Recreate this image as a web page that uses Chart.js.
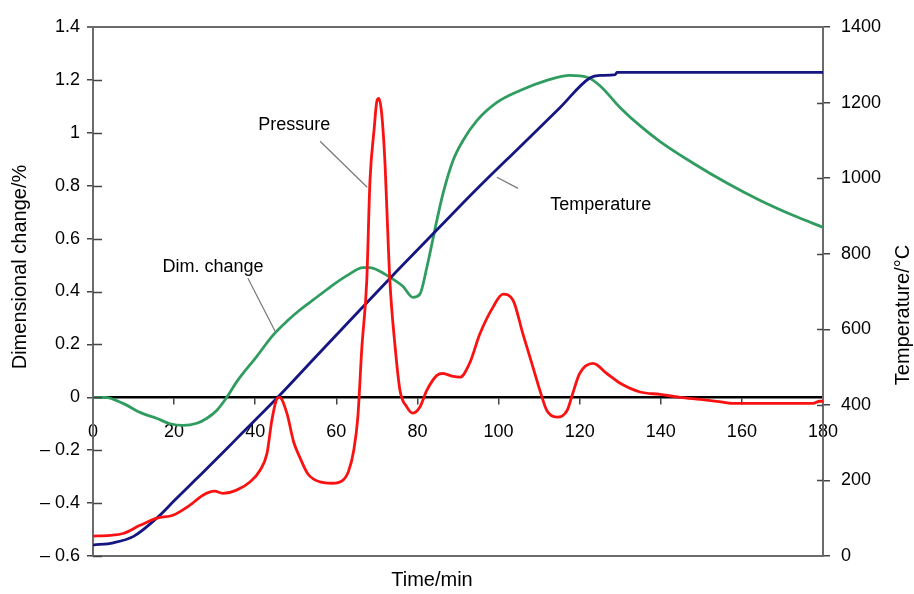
<!DOCTYPE html>
<html lang="en">
<head>
<meta charset="UTF-8">
<script src="https://cdn.jsdelivr.net/npm/chart.js"></script>
<title>Dilatometry run</title>
<style>
  html, body { margin: 0; padding: 0; background: #fff; }
  #wrap { width: 914px; height: 594px; }
</style>
</head>
<body>
<div id="wrap"><canvas id="chart" width="914" height="594"></canvas></div>
<script>
// time (min) and readings for each trace
const timeTemp = [0, 5, 10, 16, 20, 25, 30, 35, 40, 46.1, 55, 65, 75, 85.6, 95, 105, 115, 122.5, 125, 128.8, 129.2, 180];
const temperature = [29, 35, 52, 103, 146, 199, 252, 306, 360, 426, 528, 642, 755, 872, 975, 1080, 1185, 1265, 1272, 1274, 1280, 1280];

const timeDim = [0, 3, 7.4, 11.6, 15.8, 19, 22.2, 25.6, 28, 30.5, 33, 35.5, 40.4, 44.4, 48, 51, 54.2, 58.4, 62.6, 66.6, 68.3,
  70.8, 73.2, 76.4, 78.9, 80.6, 82.3, 84.8, 86.3, 88.8, 91.2, 94.7, 99.6, 105.3, 111.9, 117.6, 121.8, 125, 130,
  135, 140, 148, 156.3, 164.4, 172.6, 180];
const dimChange = [0, 0, -0.023, -0.057, -0.08, -0.1, -0.106, -0.098, -0.08, -0.05, 0, 0.06, 0.155, 0.235, 0.29, 0.33, 0.367,
  0.416, 0.46, 0.49, 0.49, 0.476, 0.454, 0.42, 0.378, 0.39, 0.49, 0.67, 0.77, 0.896, 0.97, 1.047, 1.115, 1.16, 1.198,
  1.217, 1.21, 1.178, 1.095, 1.025, 0.965, 0.885, 0.81, 0.745, 0.688, 0.643];

const timePress = [0, 4.2, 7.4, 11.6, 15.8, 19.7, 23.9, 27.1, 30, 32, 35.5, 38.7, 41.2, 42.9, 44.1, 45.4, 46, 47.8,
  49.5, 51, 53, 56, 59, 61.5, 63, 64.3, 65.3, 66.3, 67.5, 68.3, 69.3, 70, 70.5, 71.2, 72, 72.5, 73.2, 74.5, 75.7,
  77.4, 78.9, 80.6, 82.3, 84.8, 86.3, 88.5, 90.5, 92.9, 95.4, 98.6, 101.1, 103.6, 106, 108.5, 110.2, 111.9, 114.4,
  116.9, 118.3, 120, 123.3, 126.7, 130, 134.9, 139.8, 144.7, 149.7, 153.8, 157.8, 166, 177.5, 179.2, 180];
const pressure = [-0.525, -0.522, -0.515, -0.484, -0.457, -0.446, -0.408, -0.37, -0.355, -0.363, -0.35, -0.32, -0.276,
  -0.212, -0.087, -0.004, 0, -0.06, -0.17, -0.227, -0.29, -0.32, -0.325, -0.315, -0.28, -0.2, -0.075, 0.19, 0.44,
  0.82, 1.01, 1.12, 1.13, 1.07, 0.885, 0.695, 0.44, 0.19, 0.026, -0.037, -0.06, -0.037, 0.026, 0.083, 0.09, 0.08,
  0.076, 0.13, 0.24, 0.34, 0.39, 0.366, 0.24, 0.113, 0.026, -0.05, -0.075, -0.05, 0.015, 0.09, 0.128, 0.09, 0.053,
  0.02, 0.011, 0, -0.008, -0.015, -0.023, -0.023, -0.023, -0.015, -0.015];

const leftTicks = [-0.6, -0.4, -0.2, 0, 0.2, 0.4, 0.6, 0.8, 1, 1.2, 1.4];
const rightTicks = [0, 200, 400, 600, 800, 1000, 1200, 1400];
const timeTicks = [0, 20, 40, 60, 80, 100, 120, 140, 160, 180];

const FONT = 'Liberation Sans, Arial, Helvetica, sans-serif';
const AXIS_GREY = '#6b6b6b';

const pts = (xs, ys) => xs.map((x, i) => ({ x: x, y: ys[i] }));

// text labels with a thin leader line, placed in data units of x / left y
const callouts = [
  { text: 'Pressure', tx: 49.6, ty: 1.028, from: [56, 0.968], to: [67.6, 0.794] },
  { text: 'Temperature', tx: 125.2, ty: 0.726, from: [99.6, 0.832], to: [104.8, 0.79] },
  { text: 'Dim. change', tx: 29.6, ty: 0.491, from: [38.2, 0.45], to: [44.9, 0.25] }
];

const extras = {
  id: 'extras',
  afterDatasetsDraw(chart) {
    const { ctx, chartArea: a, scales } = chart;
    const x = scales.x, y = scales.y, y1 = scales.y1;
    ctx.save();
    // frame top / bottom
    ctx.strokeStyle = AXIS_GREY;
    ctx.lineWidth = 2;
    ctx.beginPath();
    ctx.moveTo(a.left - 6, a.top); ctx.lineTo(a.right + 1, a.top);
    ctx.moveTo(a.left - 1, a.bottom); ctx.lineTo(a.right + 1, a.bottom);
    ctx.stroke();
    // inner halves of the cross ticks
    ctx.lineWidth = 1.5;
    ctx.strokeStyle = '#444';
    ctx.beginPath();
    leftTicks.slice(0, -1).forEach(v => {
      const py = Math.round(y.getPixelForValue(v)) + 0.5;
      ctx.moveTo(a.left, py); ctx.lineTo(a.left + 9, py);
    });
    rightTicks.slice(1, -1).forEach(v => {
      const py = Math.round(y1.getPixelForValue(v)) + 0.5;
      ctx.moveTo(a.right, py); ctx.lineTo(a.right - 6, py);
    });
    ctx.stroke();

    // callouts
    ctx.font = '18px ' + FONT;
    ctx.fillStyle = '#000';
    ctx.textAlign = 'center';
    ctx.textBaseline = 'middle';
    ctx.strokeStyle = '#777';
    ctx.lineWidth = 1.2;
    callouts.forEach(c => {
      ctx.fillText(c.text, x.getPixelForValue(c.tx), y.getPixelForValue(c.ty));
      ctx.beginPath();
      ctx.moveTo(x.getPixelForValue(c.from[0]), y.getPixelForValue(c.from[1]));
      ctx.lineTo(x.getPixelForValue(c.to[0]), y.getPixelForValue(c.to[1]));
      ctx.stroke();
    });

    // axis titles
    ctx.font = '20px ' + FONT;
    ctx.fillText('Time/min', 432, 580);
    ctx.save();
    ctx.translate(20, 267);
    ctx.rotate(-Math.PI / 2);
    ctx.fillText('Dimensional change/%', 0, 0);
    ctx.restore();
    ctx.save();
    ctx.translate(903, 315);
    ctx.rotate(-Math.PI / 2);
    ctx.fillText('Temperature/\u00B0C', 0, 0);
    ctx.restore();
    ctx.restore();
  }
};

const fmtLeft = v => {
  const r = Math.round(v * 10) / 10;
  return r < 0 ? '\u2013 ' + Math.abs(r) : String(r);
};

new Chart(document.getElementById('chart'), {
  type: 'line',
  data: {
    datasets: [
      {
        label: 'Pressure',
        data: pts(timePress, pressure),
        yAxisID: 'y',
        borderColor: 'rgb(250, 18, 18)',
        borderWidth: 2.8,
        pointRadius: 0,
        cubicInterpolationMode: 'monotone'
      },
      {
        label: 'Temperature',
        data: pts(timeTemp, temperature),
        yAxisID: 'y1',
        borderColor: 'rgb(22, 22, 130)',
        borderWidth: 2.8,
        pointRadius: 0,
        cubicInterpolationMode: 'monotone'
      },
      {
        label: 'Dim. change',
        data: pts(timeDim, dimChange),
        yAxisID: 'y',
        borderColor: 'rgb(48, 156, 96)',
        borderWidth: 2.8,
        pointRadius: 0,
        cubicInterpolationMode: 'monotone'
      }
    ]
  },
  options: {
    responsive: false,
    animation: false,
    events: [],
    layout: { padding: { left: 0, right: 0, top: 27, bottom: 38 } },
    plugins: { legend: { display: false }, tooltip: { enabled: false } },
    scales: {
      x: {
        type: 'linear',
        position: { y: 0 },
        min: 0,
        max: 180,
        afterFit: s => { s.height = 0; },
        afterBuildTicks: s => { s.ticks = timeTicks.map(v => ({ value: v })); },
        ticks: { color: '#000', font: { family: FONT, size: 18 }, padding: 18, maxRotation: 0, autoSkip: false },
        grid: { drawOnChartArea: false, tickLength: 6, color: '#444', lineWidth: 1.5 },
        border: { color: '#000', width: 2.5 }
      },
      y: {
        position: 'left',
        min: -0.6,
        max: 1.4,
        afterFit: s => { s.width = 93; },
        afterBuildTicks: s => { s.ticks = leftTicks.map(v => ({ value: v })); },
        ticks: { color: '#000', font: { family: FONT, size: 18 }, padding: 7, callback: fmtLeft },
        grid: { drawOnChartArea: false, tickLength: 6, color: '#444', lineWidth: 1.5 },
        border: { color: AXIS_GREY, width: 2 }
      },
      y1: {
        position: 'right',
        min: 0,
        max: 1400,
        afterFit: s => { s.width = 91; },
        afterBuildTicks: s => { s.ticks = rightTicks.map(v => ({ value: v })); },
        ticks: { color: '#000', font: { family: FONT, size: 18 }, padding: 11, callback: v => String(v) },
        grid: { drawOnChartArea: false, tickLength: 7, color: '#444', lineWidth: 1.5 },
        border: { color: AXIS_GREY, width: 2 }
      }
    }
  },
  plugins: [extras]
});
</script>
</body>
</html>
